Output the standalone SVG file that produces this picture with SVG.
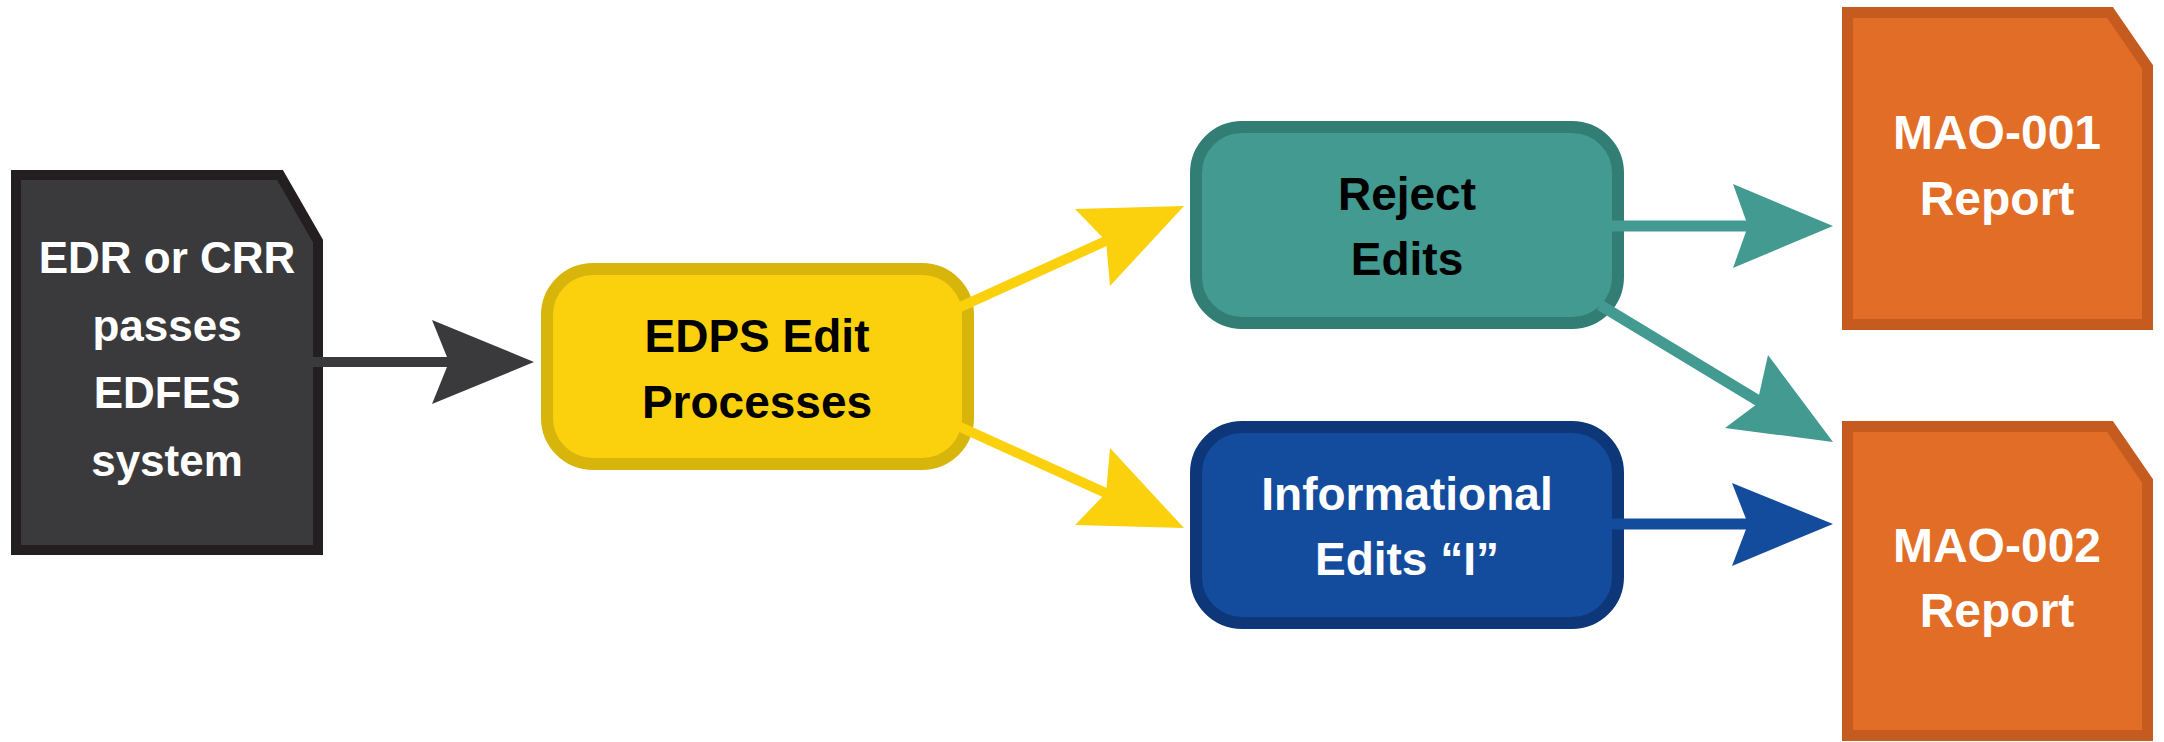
<svg xmlns="http://www.w3.org/2000/svg" width="2164" height="742" viewBox="0 0 2164 742">
<style>
text{font-family:"Liberation Sans",Arial,sans-serif;font-weight:bold;text-anchor:middle}
.doc-dark{fill:#3a3a3c;stroke:#231f20;stroke-width:10;stroke-linejoin:miter}
.doc-orange{fill:#e26d26;stroke:#c55b1e;stroke-width:11}
.box-y{fill:#fbd10e;stroke:#d8b50b;stroke-width:12}
.box-t{fill:#439a90;stroke:#327d74;stroke-width:12}
.box-b{fill:#134c9c;stroke:#0d3778;stroke-width:12}
.t-dark{font-size:44px;fill:#ffffff}
.t-box{font-size:46px}
.t-rep{font-size:48px;fill:#ffffff}
</style>
<rect width="2164" height="742" fill="#ffffff"/>
<g id="node-edr">
<path class="doc-dark" d="M16 175 H280 L318 241 V550 H16 Z"/>
<text class="t-dark" x="167" y="273">EDR or CRR</text>
<text class="t-dark" x="167" y="341">passes</text>
<text class="t-dark" x="167" y="408">EDFES</text>
<text class="t-dark" x="167" y="476">system</text>
</g>
<g id="node-edps">
<rect class="box-y" x="547" y="269" width="421" height="195" rx="46" ry="46"/>
<text class="t-box" x="757" y="352" fill="#000000">EDPS Edit</text>
<text class="t-box" x="757" y="418" fill="#000000">Processes</text>
</g>
<g id="node-reject">
<rect class="box-t" x="1196" y="127" width="422" height="196" rx="46" ry="46"/>
<text class="t-box" x="1407" y="210" fill="#000000">Reject</text>
<text class="t-box" x="1407" y="275" fill="#000000">Edits</text>
</g>
<g id="node-info">
<rect class="box-b" x="1196" y="427" width="422" height="196" rx="46" ry="46"/>
<text class="t-box" x="1407" y="510" fill="#ffffff">Informational</text>
<text class="t-box" x="1407" y="575" fill="#ffffff">Edits “I”</text>
</g>
<g id="node-mao001">
<path class="doc-orange" d="M1847.5 12.5 H2110 L2147.5 67 V324.5 H1847.5 Z"/>
<text class="t-rep" x="1997" y="149">MAO-001</text>
<text class="t-rep" x="1997" y="215">Report</text>
</g>
<g id="node-mao002">
<path class="doc-orange" d="M1847.5 426.5 H2110 L2147.5 481 V735.5 H1847.5 Z"/>
<text class="t-rep" x="1997" y="562">MAO-002</text>
<text class="t-rep" x="1997" y="627">Report</text>
</g>
<g id="connectors">
<line x1="313" y1="362" x2="452" y2="362" stroke="#3a3a3c" stroke-width="10"/>
<polygon points="534,362 432,320 449,362 432,404" fill="#3a3a3c"/>
<line x1="958" y1="308" x2="1108" y2="240" stroke="#fbd10e" stroke-width="10"/>
<polygon points="1184,206 1075,209 1106,241 1110,286" fill="#fbd10e"/>
<line x1="958" y1="426" x2="1108" y2="494" stroke="#fbd10e" stroke-width="10"/>
<polygon points="1184,528 1075,525 1106,493 1110,448" fill="#fbd10e"/>
<line x1="1612" y1="226" x2="1752" y2="226" stroke="#439a90" stroke-width="11"/>
<polygon points="1833,226 1733,184 1748,226 1733,268" fill="#439a90"/>
<line x1="1600" y1="305" x2="1762" y2="403" stroke="#439a90" stroke-width="11"/>
<polygon points="1833,442 1768,355 1757,404 1725,428" fill="#439a90"/>
<line x1="1612" y1="524" x2="1752" y2="524" stroke="#134c9c" stroke-width="11"/>
<polygon points="1833,524 1732,483 1748,524 1732,566" fill="#134c9c"/>
</g>
</svg>
